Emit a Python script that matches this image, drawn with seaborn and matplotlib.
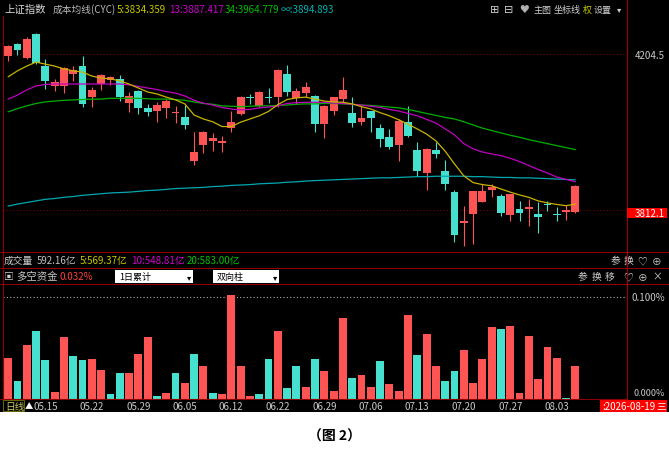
import matplotlib
matplotlib.use("Agg")
import numpy as np
import pandas as pd
import matplotlib.pyplot as plt
import seaborn as sns
from matplotlib.patches import Rectangle
from matplotlib.lines import Line2D

sns.set_theme(style="dark", rc={"axes.facecolor": "black", "figure.facecolor": "white"})
plt.rcParams['font.family'] = ['Noto Sans CJK SC', 'DejaVu Sans']
plt.rcParams['axes.unicode_minus'] = False

# ---- 数据 (上证指数 日线 K线) ----
opens = [4200, 4230, 4194, 4255, 4175, 4123, 4125, 4154, 4175, 4096,
         4129, 4140, 4142, 4081, 4112, 4069, 4062, 4069, 4055, 4047,
         3936, 3976, 3986, 3981, 4018, 4054, 4097, 4074, 4097, 4096,
         4154, 4093, 4106, 4100, 4028, 4060, 4091, 4055, 4033, 4060,
         4018, 3995, 3976, 4033, 3964, 3905, 3962, 3910, 3858, 3779,
         3802, 3833, 3863, 3847, 3800, 3815, 3815, 3802, 3827, 3802,
         3806, 3806]
closes = [4225, 4215, 4242, 4182, 4137, 4133, 4169, 4164, 4079, 4114,
          4152, 4147, 4096, 4100, 4069, 4058, 4076, 4086, 4059, 4026,
          3957, 4009, 3992, 3986, 4033, 4097, 4094, 4108, 4094, 4165,
          4109, 4112, 4122, 4028, 4074, 4096, 4114, 4030, 4044, 4043,
          3991, 3970, 4037, 3997, 3910, 3966, 3953, 3878, 3749, 3784,
          3859, 3861, 3871, 3805, 3852, 3804, 3819, 3794, 3824, 3799,
          3813, 3873]
highs = [4226, 4231, 4247, 4257, 4192, 4142, 4171, 4175, 4199, 4121,
         4153, 4149, 4152, 4108, 4114, 4079, 4083, 4091, 4073, 4076,
         4008, 4010, 4006, 3998, 4062, 4100, 4104, 4112, 4119, 4166,
         4177, 4119, 4135, 4102, 4076, 4097, 4146, 4097, 4074, 4062,
         4028, 4016, 4041, 4074, 3982, 3967, 3982, 3938, 3863, 3821,
         3860, 3878, 3878, 3852, 3853, 3836, 3840, 3832, 3836, 3819,
         3825, 3876]
lows = [4188, 4202, 4192, 4180, 4116, 4112, 4106, 4137, 4071, 4070,
        4115, 4126, 4087, 4058, 4054, 4049, 4033, 4044, 4031, 4016,
        3925, 3955, 3961, 3957, 4008, 4052, 4079, 4072, 4080, 4072,
        4100, 4079, 4096, 4009, 3993, 4052, 4083, 4020, 4027, 4008,
        3971, 3966, 3936, 3995, 3898, 3862, 3943, 3863, 3731, 3722,
        3727, 3832, 3844, 3798, 3784, 3785, 3771, 3754, 3810, 3785,
        3788, 3805]

# 成本均线 CYC
cyc5 = [4147, 4162, 4174, 4184, 4179, 4174, 4167, 4162, 4159, 4149,
        4144, 4142, 4137, 4129, 4119, 4109, 4104, 4096, 4089, 4079,
        4051, 4041, 4034, 4022, 4022, 4033, 4041, 4049, 4060, 4077,
        4090, 4094, 4096, 4091, 4086, 4084, 4083, 4079, 4072, 4066,
        4057, 4049, 4039, 4028, 4016, 4003, 3986, 3960, 3928, 3898,
        3881, 3876, 3873, 3865, 3857, 3850, 3844, 3835, 3830, 3826,
        3823, 3827]
cyc13 = [4091, 4101, 4114, 4124, 4128, 4129, 4129, 4129, 4129, 4129,
         4129, 4129, 4129, 4127, 4123, 4119, 4115, 4110, 4106, 4099,
         4088, 4081, 4076, 4070, 4066, 4064, 4065, 4069, 4071, 4074,
         4080, 4082, 4083, 4083, 4083, 4081, 4080, 4078, 4076, 4073,
         4070, 4065, 4061, 4055, 4049, 4040, 4031, 4016, 4001, 3979,
         3966, 3958, 3953, 3949, 3942, 3934, 3924, 3914, 3905, 3895,
         3889, 3883]
cyc34 = [4059, 4067, 4074, 4080, 4084, 4086, 4088, 4089, 4090, 4091,
         4091, 4093, 4093, 4093, 4093, 4092, 4091, 4091, 4090, 4088,
         4084, 4080, 4078, 4074, 4073, 4072, 4073, 4074, 4074, 4075,
         4076, 4078, 4079, 4079, 4080, 4080, 4079, 4078, 4076, 4075,
         4073, 4071, 4069, 4065, 4060, 4055, 4050, 4045, 4041, 4034,
         4026, 4018, 4012, 4006, 4000, 3995, 3989, 3984, 3979, 3974,
         3969, 3964]
cyc_inf = [3822, 3827, 3831, 3835, 3839, 3841, 3844, 3846, 3849, 3851,
           3853, 3855, 3856, 3857, 3859, 3861, 3862, 3864, 3866, 3867,
           3868, 3869, 3871, 3872, 3874, 3875, 3876, 3878, 3879, 3880,
           3882, 3883, 3885, 3886, 3887, 3888, 3889, 3890, 3891, 3892,
           3893, 3893, 3894, 3895, 3896, 3896, 3897, 3897, 3897, 3897,
           3896, 3896, 3895, 3894, 3894, 3893, 3893, 3892, 3891, 3890,
           3889, 3888]

# 多空资金 (%)
flow = [0.040, 0.018, 0.053, 0.0666, 0.038, 0.0072, 0.0607, 0.0423, 0.038, 0.039,
        0.0285, 0.0049, 0.0252, 0.0259, 0.0439, 0.0613, 0.0033, 0.0056, 0.0259, 0.016,
        0.0439, 0.0321, 0.0062, 0.0049, 0.1026, 0.0328, 0.0033, 0.0049, 0.0393, 0.0669,
        0.0108, 0.0321, 0.0121, 0.0393, 0.0279, 0.0075, 0.0793, 0.0203, 0.0236, 0.0115,
        0.037, 0.0148, 0.0082, 0.0826, 0.0436, 0.0639, 0.0328, 0.0174, 0.0275, 0.0482,
        0.0157, 0.039, 0.0705, 0.0689, 0.0718, 0.0062, 0.0623, 0.0197, 0.0508, 0.0403,
        0.001, 0.0321]
flow_side = list("rcrccrrccr" "rccrrrcrcr" "crcrrrrccr" "ccrcrrrcrr"
                 "crrrcrrccr" "rrrcrrrrrr" "cr")

tick_pos = [4, 9, 14, 19, 24, 29, 34, 39, 44, 49, 54, 59]
tick_labels = ["05.15", "05.22", "05.29", "06.05", "06.12", "06.22",
               "06.29", "07.06", "07.13", "07.20", "07.27", "08.03"]

price_marks = [4204.5, 3812.1]

RED = "#FF5454"
CYAN = "#46E0CF"
FRAME = "#8B0000"
GREY = "#C8C8C8"

W, H = 669, 456
fig = plt.figure(figsize=(W / 100, H / 100), dpi=100)
fig.patch.set_facecolor("white")


def rect(x0, y0, x1, y1):
    return [x0 / W, 1 - y1 / H, (x1 - x0) / W, (y1 - y0) / H]


def txt(x, y, s, color=GREY, size=7, **kw):
    kw.setdefault("va", "center")
    fig.text(x / W, 1 - y / H, s, color=color, fontsize=size, **kw)


def box(x0, y0, x1, y1, fc, ec="none", z=1):
    fig.patches.append(Rectangle((x0 / W, 1 - y1 / H), (x1 - x0) / W, (y1 - y0) / H,
                                 transform=fig.transFigure, facecolor=fc,
                                 edgecolor=ec, lw=0.7, zorder=z))


def fline(xs, ys, color=FRAME, lw=0.8, z=5):
    fig.lines.append(Line2D([x / W for x in xs], [1 - y / H for y in ys],
                            transform=fig.transFigure, color=color, lw=lw, zorder=z))


# black background of the software window
box(0, 0, W, 413, "black", z=-5)

idx = np.arange(len(opens))

# ---- 主图 K线 ----
ax = fig.add_axes(rect(3, 17, 627, 253))
ax.set_zorder(1)
ax.set_facecolor("black")
for y in price_marks:
    ax.axhline(y, color="#7A0000", lw=0.8, ls=(0, (1, 2)), zorder=1)

o = np.array(opens, float)
c = np.array(closes, float)
up = c >= o
colors = np.where(up, RED, CYAN)
ax.vlines(idx, lows, highs, colors=colors, lw=0.8, zorder=2)
body_low = np.minimum(o, c)
body_h = np.maximum(np.abs(c - o), 2.5)
ax.bar(idx, body_h, bottom=body_low, width=0.84, color=colors, linewidth=0, zorder=3)

for vals, col in [(cyc_inf, "#00A8B0"), (cyc34, "#00B000"),
                  (cyc13, "#C000C0"), (cyc5, "#C8B400")]:
    sns.lineplot(x=idx, y=vals, ax=ax, color=col, linewidth=0.9, zorder=5)

ax.set_xlim(-0.55, 66.55)
ax.set_ylim(3706.5, 4300.0)
ax.set_xticks([])
ax.set_yticks([])
ax.set_xlabel("")
ax.set_ylabel("")
for s in ax.spines.values():
    s.set_visible(False)

# ---- 多空资金 ----
ax2 = fig.add_axes(rect(3, 285, 627, 400))
ax2.set_zorder(1)
ax2.set_facecolor("black")
df = pd.DataFrame({"i": idx, "v": flow, "side": flow_side})
sns.barplot(data=df, x="i", y="v", hue="side", palette={"r": RED, "c": CYAN},
            dodge=False, native_scale=True, width=0.84, saturation=1,
            linewidth=0, legend=False, ax=ax2)
ax2.axhline(0.1, color="#B0B0B0", lw=0.8, ls=(0, (1, 2)), zorder=0)
ax2.set_xlim(-0.55, 66.55)
ax2.set_ylim(0, 0.1131)
ax2.set_xticks(tick_pos)
ax2.set_xticklabels(tick_labels, color=GREY, fontsize=7)
ax2.tick_params(axis="x", length=0, pad=1.5)
ax2.set_yticks([])
ax2.set_xlabel("")
ax2.set_ylabel("")
for s in ax2.spines.values():
    s.set_visible(False)

# ---- frame lines ----
for y in (253, 269, 285):
    fline([0, W], [y, y])
fline([0, 627], [400, 400])
fline([627, 627], [0, 400], color="#A00000")
fline([3, 3], [17, 400])

# ---- header ----
txt(4, 10, "上证指数", color="#D8D8D8", size=7.5)
txt(53, 10, "成本均线(CYC)", color="#B8B8B8", size=7)
txt(117, 10, "5:3834.359", color="#C8C800", size=7)
txt(169, 10, "13:3887.417", color="#D000D0", size=7)
txt(225, 10, "34:3964.779", color="#00C000", size=7)
txt(281, 10, "∞:3894.893", color="#00B4B4", size=7)

txt(495, 10, "⊞", color="#D0D0D0", size=8, ha="center")
txt(509, 10, "⊟", color="#D0D0D0", size=8, ha="center")
txt(524, 10, "♥", color="#B0B0B0", size=7, ha="center")
txt(533, 10, "主图", color="#D0D0D0", size=6.5)
txt(554, 10, "坐标线", color="#D0D0D0", size=6.5)
txt(583, 10, "权", color="#C8C800", size=6.5)
txt(594, 10, "设置", color="#D0D0D0", size=6.5)
txt(619, 10, "▾", color="#D0D0D0", size=6, ha="center")

# right axis labels
txt(665, 56, "4204.5", color=GREY, size=7, ha="right")
box(627, 209, 667, 219, "#FF0000", z=6)
txt(665, 214, "3812.1", color="white", size=7, ha="right", zorder=7)
txt(665, 298, "0.100%", color=GREY, size=7, ha="right")
txt(665, 394, "0.000%", color=GREY, size=6.5, ha="right", zorder=2)

# volume row
txt(4, 261, "成交量", color=GREY, size=7)
txt(37, 261, "592.16亿", color="#C0C0C0", size=7)
txt(80, 261, "5:569.37亿", color="#C8C800", size=7)
txt(131, 261, "10:548.81亿", color="#D000D0", size=7)
txt(187, 261, "20:583.00亿", color="#00C000", size=7)
for x, s in [(615, "参"), (628, "换"), (642, "♡"), (657, "⊕")]:
    txt(x, 261, s, color="#D0D0D0", size=7, ha="center")

# flow row
txt(9, 277, "▣", color="#D0D0D0", size=7, ha="center")
txt(16, 277, "多空资金", color=GREY, size=7.5)
txt(60, 277, "0.032%", color="#FF4040", size=7)
box(115, 271, 193, 284, "white", z=2)
txt(119, 277.5, "1日累计", color="black", size=6.5, zorder=3)
txt(189, 277.5, "▾", color="black", size=6, ha="center", zorder=3)
box(213, 271, 279, 284, "white", z=2)
txt(217, 277.5, "双向柱", color="black", size=6.5, zorder=3)
txt(275, 277.5, "▾", color="black", size=6, ha="center", zorder=3)
for x, s in [(582, "参"), (596, "换"), (610, "移"), (628, "♡"), (643, "⊕"), (657, "×")]:
    txt(x, 277, s, color="#D0D0D0", size=7, ha="center")

# x axis row
box(3, 401, 24, 412, "none", ec="#6B6B00", z=2)
txt(5, 407, "日线", color="#C8C864", size=7)
txt(29, 407, "▲", color="white", size=6, ha="center")
box(600, 401, 667, 413, "#FF0000", z=4)
txt(602, 407, ":2026-08-19", color="white", size=7, zorder=5)
txt(661, 407, "三", color="white", size=7, ha="center", zorder=5)

# caption
txt(335, 437, "（图 2）", color="black", size=10, ha="center", fontweight="bold")

fig.savefig("out.png", dpi=100, facecolor="white")
